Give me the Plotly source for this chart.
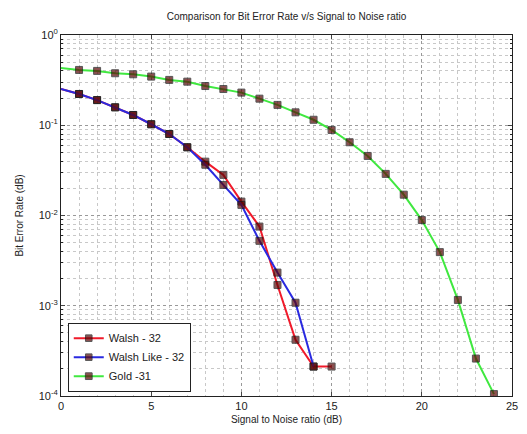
import numpy as np
import plotly.graph_objects as go

snr_walsh = list(range(0, 16))
ber_walsh = [0.252, 0.222, 0.19, 0.158, 0.13, 0.1026, 0.08, 0.057, 0.0395,
             0.0282, 0.01426, 0.00754, 0.0017, 0.00042, 0.000212, 0.000212]
snr_walsh_like = list(range(0, 15))
ber_walsh_like = [0.252, 0.222, 0.19, 0.158, 0.13, 0.1026, 0.08, 0.057, 0.0365,
                  0.0218, 0.0131, 0.00524, 0.00233, 0.00108, 0.000212]
snr_gold = list(range(0, 25))
ber_gold = [0.43, 0.41, 0.40, 0.377, 0.367, 0.346, 0.318, 0.304, 0.272, 0.252,
            0.23, 0.197, 0.168, 0.139, 0.115, 0.0887, 0.0648, 0.0457, 0.0289,
            0.017, 0.0089, 0.00393, 0.00116, 0.00026, 0.000105]

names = ["Walsh - 32", "Walsh Like - 32", "Gold -31"]
colors = ["#f01a2a", "#2a2ae0", "#40e840"]
ytickvals = [1e-4, 1e-3, 1e-2, 1e-1, 1]
yticktext = ["10<sup>-4</sup>", "10<sup>-3</sup>", "10<sup>-2</sup>", "10<sup>-1</sup>", "10<sup>0</sup>"]
xtickvals = [0, 5, 10, 15, 20, 25]

font = "Liberation Sans, Arial, sans-serif"
fig = go.Figure()
for x, y, n, c in zip([snr_walsh, snr_walsh_like, snr_gold],
                      [ber_walsh, ber_walsh_like, ber_gold], names, colors):
    sizes = [0] + [7] * (len(x) - 1)
    fig.add_trace(go.Scatter(
        x=x, y=y, name=n, mode="lines+markers",
        line=dict(color=c, width=2),
        marker=dict(symbol="square", size=sizes, color="#5a0606",
                    line=dict(color="#111111", width=1)),
    ))

minor_y = [k * 10.0 ** e for e in range(-4, 0) for k in range(2, 10)]

fig.update_layout(
    width=527, height=434,
    margin=dict(l=61, r=9, t=35, b=38),
    paper_bgcolor="white", plot_bgcolor="white",
    font=dict(family=font, size=10, color="#222222"),
    title=dict(text="Comparison for Bit Error Rate v/s Signal to Noise ratio",
               x=0.5, xref="paper", y=0.962, yanchor="middle",
               font=dict(size=10, color="#222222")),
    legend=dict(x=0.015, y=0.012, xanchor="left", yanchor="bottom",
                bgcolor="white", bordercolor="#222222", borderwidth=1,
                font=dict(size=11, color="#222222"), tracegroupgap=0,
                itemwidth=30),
    xaxis=dict(range=[0, 25], tickvals=xtickvals, ticks="inside", ticklen=4,
               showline=True, linecolor="#222222", linewidth=1, mirror="ticks",
               showgrid=True, gridcolor="#999999", griddash="dot", gridwidth=1,
               zeroline=False, tickfont=dict(size=11),
               minor=dict(dtick=1, showgrid=True, gridcolor="#c8c8c8",
                          griddash="dot", ticks="", ticklen=2),
               title=dict(text="Signal to Noise ratio (dB)", standoff=4,
                          font=dict(size=10))),
    yaxis=dict(type="log", range=[-4, 0], tickvals=ytickvals, ticktext=yticktext,
               ticks="inside", ticklen=4,
               showline=True, linecolor="#222222", linewidth=1, mirror="ticks",
               showgrid=True, gridcolor="#999999", griddash="dot", gridwidth=1,
               zeroline=False, tickfont=dict(size=11),
               minor=dict(tickvals=minor_y, showgrid=True, gridcolor="#c8c8c8",
                          griddash="dot", ticks="inside", ticklen=2,
                          tickcolor="#222222"),
               title=dict(text="Bit Error Rate (dB)", standoff=13,
                          font=dict(size=10))),
)

fig.write_html("out.html")
